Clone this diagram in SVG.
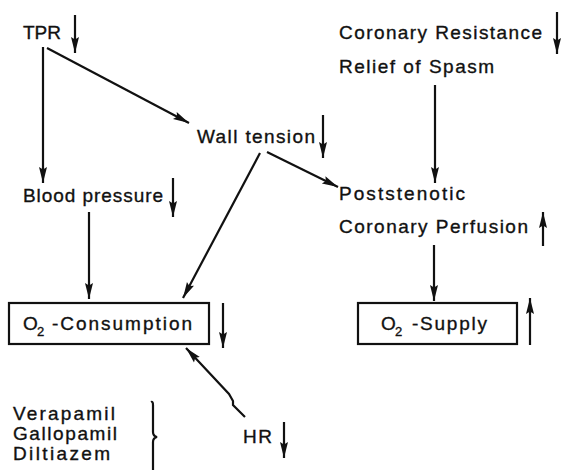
<svg xmlns="http://www.w3.org/2000/svg" width="564" height="471" viewBox="0 0 564 471">
<defs>
<marker id="ah" markerUnits="userSpaceOnUse" markerWidth="18" markerHeight="10" refX="16" refY="4.5" orient="auto">
<path d="M0,0.5 L16,4.5 L0,8.5 L2.5,4.5 z" fill="#111"/>
</marker>
<style>
text{font-family:"Liberation Sans",Arial,sans-serif;font-size:19px;fill:#111;stroke:#111;stroke-width:0.35}
.sub{font-size:13px}
.ln{stroke:#111;stroke-width:2.2;fill:none}
.arr{stroke:#111;stroke-width:2.2;fill:none;marker-end:url(#ah)}
.box{fill:#fff;stroke:#111;stroke-width:2.2}
</style>
</defs>
<rect width="564" height="471" fill="#fff"/>
<g id="connectors">
<line class="arr" x1="43" y1="47" x2="43" y2="183"/>
<line class="arr" x1="47" y1="48" x2="189" y2="123"/>
<line class="arr" x1="89" y1="212" x2="89" y2="299"/>
<line class="arr" x1="260" y1="153" x2="183" y2="298"/>
<line class="arr" x1="267" y1="152" x2="338" y2="187"/>
<line class="arr" x1="435" y1="85" x2="435" y2="183"/>
<line class="arr" x1="434" y1="245" x2="434" y2="301"/>
<polyline class="arr" points="245,417 233,405 233,401 229,394 186,348"/>
</g>
<g id="tpr">
<text x="23" y="39" textLength="38" lengthAdjust="spacing">TPR</text>
<line class="arr" x1="75" y1="15" x2="75" y2="53"/>
</g>
<g id="wall-tension">
<text x="197" y="143" textLength="118" lengthAdjust="spacing">Wall tension</text>
<line class="arr" x1="323" y1="115" x2="323" y2="158"/>
</g>
<g id="blood-pressure">
<text x="23" y="202" textLength="140" lengthAdjust="spacing">Blood pressure</text>
<line class="arr" x1="173" y1="178" x2="173" y2="217"/>
</g>
<g id="coronary-resistance">
<text x="339" y="39" textLength="203" lengthAdjust="spacing">Coronary Resistance</text>
<line class="arr" x1="557" y1="12" x2="557" y2="54"/>
<text x="339" y="73" textLength="155" lengthAdjust="spacing">Relief of Spasm</text>
</g>
<g id="poststenotic">
<text x="339" y="200" textLength="126" lengthAdjust="spacing">Poststenotic</text>
<text x="339" y="233" textLength="189" lengthAdjust="spacing">Coronary Perfusion</text>
<line class="arr" x1="543" y1="246" x2="543" y2="212"/>
</g>
<g id="o2-consumption">
<rect class="box" x="9" y="303" width="200" height="41"/>
<text x="23" y="330">O</text>
<text class="sub" x="37" y="336">2</text>
<text x="52" y="330" textLength="140" lengthAdjust="spacing">-Consumption</text>
<line class="arr" x1="223" y1="303" x2="223" y2="348"/>
</g>
<g id="o2-supply">
<rect class="box" x="358" y="303" width="159" height="41"/>
<text x="381" y="330">O</text>
<text class="sub" x="395" y="336">2</text>
<text x="412" y="330" textLength="75" lengthAdjust="spacing">-Supply</text>
<line class="arr" x1="530" y1="345" x2="530" y2="298"/>
</g>
<g id="drugs">
<text x="13" y="420" textLength="102" lengthAdjust="spacing">Verapamil</text>
<text x="13" y="440" textLength="104" lengthAdjust="spacing">Gallopamil</text>
<text x="13" y="460" textLength="97" lengthAdjust="spacing">Diltiazem</text>
<path class="ln" d="M151,402 Q153,401 153,405 L153,432 Q153,436 157,437 Q153,438 153,442 L153,470"/>
</g>
<g id="hr">
<text x="243" y="443" textLength="29" lengthAdjust="spacing">HR</text>
<line class="arr" x1="284" y1="422" x2="284" y2="458"/>
</g>
</svg>
